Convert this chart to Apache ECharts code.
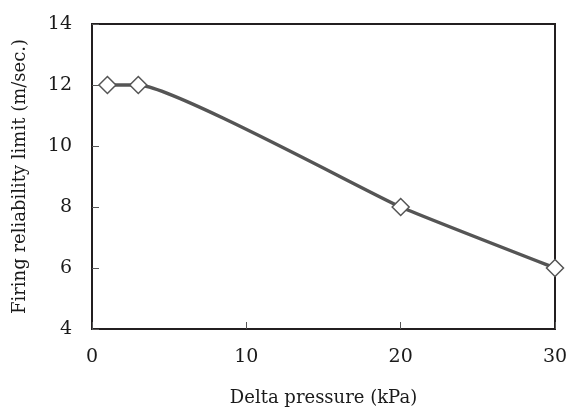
<!DOCTYPE html>
<html lang="en">
<head>
  <meta charset="utf-8">
  <title>Firing reliability limit</title>
  <script src="https://cdn.jsdelivr.net/npm/echarts@6/dist/echarts.min.js"></script>
  <style>
    html, body { margin: 0; padding: 0; background: #fff; }
    #chart { width: 566px; height: 414px; }
  </style>
</head>
<body>
  <div id="chart"></div>
  <script>
    // data
    var pressure = [1, 3, 20, 30];      // kPa
    var limit = [12, 12, 8, 6];          // m/sec.

    var font = '"DejaVu Serif", "Liberation Serif", serif';
    var chart = echarts.init(document.getElementById('chart'));

    chart.setOption({
      animation: false,
      grid: {
        left: 92, right: 11, top: 24, bottom: 85,
        outerBoundsMode: 'none', containLabel: false,
        show: true, borderColor: '#231f20', borderWidth: 2
      },
      xAxis: {
        type: 'value', min: 0, max: 30, interval: 10,
        name: 'Delta pressure (kPa)', nameLocation: 'middle', nameGap: 60,
        nameTextStyle: { fontFamily: font, fontSize: 18, color: '#1a1a1a' },
        axisLine: { lineStyle: { color: '#231f20', width: 2 } },
        axisTick: { inside: true, length: 7, lineStyle: { color: '#555' } },
        axisLabel: { fontFamily: font, fontSize: 19, color: '#1a1a1a', margin: 19 },
        splitLine: { show: false }
      },
      yAxis: {
        type: 'value', min: 4, max: 14, interval: 2,
        name: 'Firing reliability limit (m/sec.)', nameLocation: 'middle', nameGap: 63,
        nameTextStyle: { fontFamily: font, fontSize: 18, color: '#1a1a1a' },
        axisLine: { show: true, lineStyle: { color: '#231f20', width: 2 } },
        axisTick: { show: true, inside: true, length: 7, lineStyle: { color: '#555' } },
        axisLabel: { fontFamily: font, fontSize: 19, color: '#1a1a1a', margin: 20 },
        splitLine: { show: false }
      },
      series: [{
        type: 'line',
        data: pressure.map(function (p, i) { return [p, limit[i]]; }),
        smooth: 0.12,
        symbol: 'diamond',
        symbolSize: 17,
        lineStyle: { color: '#555', width: 3.5 },
        itemStyle: { color: '#fff', borderColor: '#555', borderWidth: 1.5 }
      }]
    });
  </script>
</body>
</html>
